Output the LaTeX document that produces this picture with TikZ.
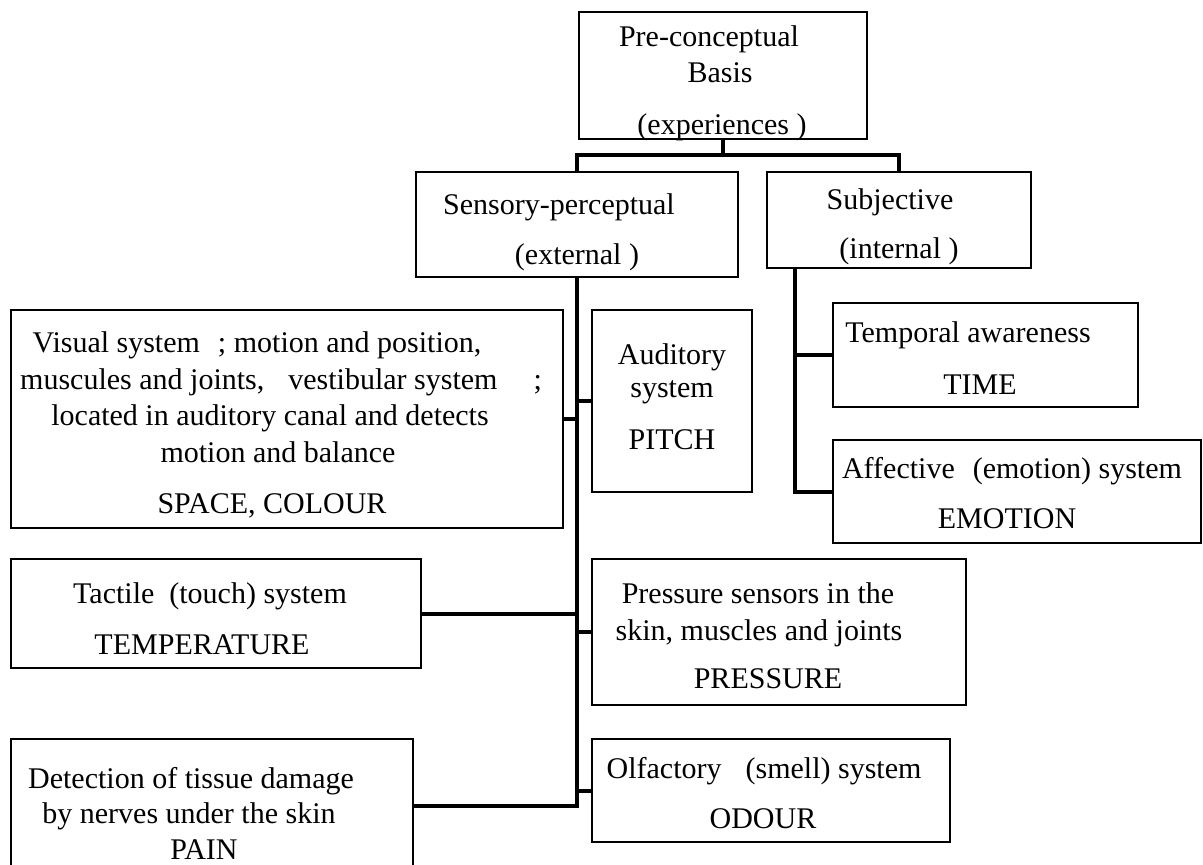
\documentclass[tikz,border=0pt]{standalone}
\usepackage{fontspec}
\setmainfont{Liberation Serif}
\usetikzlibrary{fit}
\begin{document}
\begin{tikzpicture}[x=0.5pt,y=-0.5pt,
  box/.style={draw, line width=1.2pt, rectangle, inner sep=0pt},
  conn/.style={line width=2pt},
  txt/.style={anchor=base, inner sep=0pt, font=\fontsize{15}{18}\selectfont}]
\useasboundingbox (0,0) rectangle (1203,865);
% boxes
\node[box, fit={(579,12) (867,139)}] (top) {};
\node[box, fit={(416,172) (738,277)}] (sens) {};
\node[box, fit={(767,172) (1031,268)}] (subj) {};
\node[box, fit={(11,310) (563,528)}] (vis) {};
\node[box, fit={(592,310) (752,492)}] (aud) {};
\node[box, fit={(833,303) (1138,407)}] (temp) {};
\node[box, fit={(833,440) (1201,543)}] (aff) {};
\node[box, fit={(11,559) (421,668)}] (tact) {};
\node[box, fit={(592,559) (966,705)}] (pres) {};
\node[box, fit={(11,739) (413,873)}] (pain) {};
\node[box, fit={(592,739) (950,842)}] (olf) {};
% texts
\node[txt] (t1) at (709,47) {Pre-conceptual};
\node[txt] (t2) at (720,83) {Basis};
\node[txt] (t3) at (722,135) {(experiences )};
\node[txt] (s1) at (559,215) {Sensory-perceptual};
\node[txt] (s2) at (577,265) {(external )};
\node[txt] (u1) at (890,210) {Subjective};
\node[txt] (u2) at (899,259) {(internal )};
\node[txt] (v1) at (257,353) {Visual system\hspace{0.6em}; motion and position,};
\node[txt] (v2) at (281,390) {muscules and joints,\hspace{0.8em}vestibular system\hspace{1.2em};};
\node[txt] (v3) at (270,426) {located in auditory canal and detects};
\node[txt] (v4) at (278,463) {motion and balance};
\node[txt] (v5) at (272,513) {SPACE, COLOUR};
\node[txt] (a1) at (672,365) {Auditory};
\node[txt] (a2) at (672,398) {system};
\node[txt] (a3) at (672,450) {PITCH};
\node[txt] (m1) at (968,343) {Temporal awareness};
\node[txt] (m2) at (980,395) {TIME};
\node[txt] (f1) at (1012,478) {Affective\hspace{0.6em}(emotion) system};
\node[txt] (f2) at (1007,528) {EMOTION};
\node[txt] (c1) at (210,603) {Tactile\hspace{0.5em}(touch) system};
\node[txt] (c2) at (202,654) {TEMPERATURE};
\node[txt] (p1) at (758,603) {Pressure sensors in the};
\node[txt] (p2) at (759,640) {skin, muscles and joints};
\node[txt] (p3) at (768,688) {PRESSURE};
\node[txt] (n1) at (191,788) {Detection of tissue damage};
\node[txt] (n2) at (189,823) {by nerves under the skin};
\node[txt] (n3) at (204,859) {PAIN};
\node[txt] (o1) at (764,778) {Olfactory\hspace{0.8em}(smell) system};
\node[txt] (o2) at (763,828) {ODOUR};
% connectors
\coordinate (bar) at (723,155);
\coordinate (st) at (795,268);
\draw[conn] (top.south) -- (bar);
\draw[conn] (sens.north) -- (sens.north |- bar) -- (subj.north |- bar) -- (subj.north);
\draw[conn] (sens.south) -- (sens.south |- pain.east) -- (pain.east);
\draw[conn] (vis.east) -- (vis.east -| sens.south);
\draw[conn] (aud.west) -- (aud.west -| sens.south);
\draw[conn] (tact.east) -- (tact.east -| sens.south);
\draw[conn] (pres.west) -- (pres.west -| sens.south);
\draw[conn] (olf.west) -- (olf.west -| sens.south);
\draw[conn] (st) -- (st |- aff.west) -- (aff.west);
\draw[conn] (temp.west) -- (temp.west -| st);
\end{tikzpicture}
\end{document}
